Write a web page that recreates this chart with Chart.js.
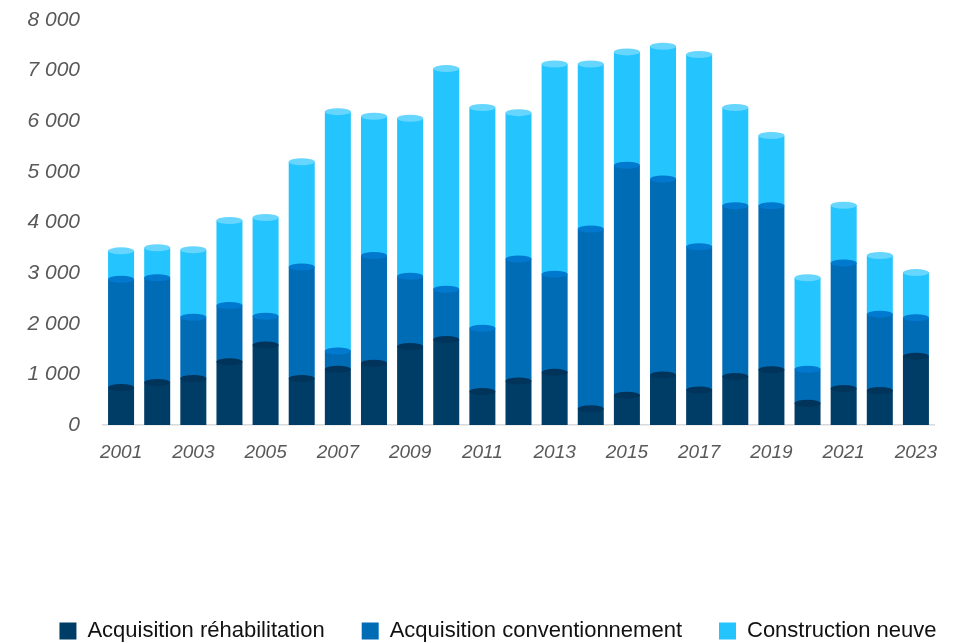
<!DOCTYPE html>
<html>
<head>
<meta charset="utf-8">
<script src="https://cdn.jsdelivr.net/npm/chart.js@4.4.0/dist/chart.umd.min.js"></script>
<style>
  html, body { margin: 0; padding: 0; background: #fff; }
  #wrap { width: 974px; height: 643px; position: relative; }
</style>
</head>
<body>
<div id="wrap"><canvas id="chart"></canvas></div>
<script>
const years = ['2001','2002','2003','2004','2005','2006','2007','2008','2009','2010','2011','2012',
               '2013','2014','2015','2016','2017','2018','2019','2020','2021','2022','2023']
const rehabilitation = [740, 840, 920, 1250, 1580, 920, 1100, 1220, 1550, 1690, 660, 870,
                        1040, 320, 590, 990, 690, 960, 1090, 430, 720, 680, 1360]
const conventionnement = [2140, 2070, 1210, 1110, 570, 2200, 360, 2130, 1390, 990, 1250, 2410,
                          1940, 3550, 4540, 3870, 2830, 3370, 3240, 670, 2480, 1510, 760]
const constructionNeuve = [560, 590, 1330, 1680, 1950, 2080, 4730, 2750, 3120, 4360, 4360, 2890,
                           4150, 3260, 2240, 2620, 3800, 1940, 1390, 1810, 1140, 1160, 890]
const yTicks = [0, 1000, 2000, 3000, 4000, 5000, 6000, 7000, 8000]

const colors = ['#003d66', '#006cb6', '#24c5ff']
const capColors = ['#00345a', '#0079cf', '#66d6ff']

const fmt = v => String(v).replace(/\B(?=(\d{3})+(?!\d))/g, ' ')

// little ellipse on top of each segment, like the 3D cylinders
const caps = {
  id: 'caps',
  afterDatasetsDraw(chart) {
    const ctx = chart.ctx
    chart.data.datasets.forEach((ds, i) => {
      const meta = chart.getDatasetMeta(i)
      meta.data.forEach(bar => {
        const w = bar.width / 2
        ctx.save()
        ctx.fillStyle = capColors[i]
        ctx.beginPath()
        ctx.ellipse(bar.x, bar.y, w, 3.5, 0, 0, Math.PI * 2)
        ctx.fill()
        ctx.restore()
      })
    })
  }
}

new Chart(document.getElementById('chart'), {
  type: 'bar',
  data: {
    labels: years,
    datasets: [
      { label: 'Acquisition réhabilitation', data: rehabilitation, backgroundColor: colors[0] },
      { label: 'Acquisition conventionnement', data: conventionnement, backgroundColor: colors[1] },
      { label: 'Construction neuve', data: constructionNeuve, backgroundColor: colors[2] }
    ]
  },
  options: {
    responsive: true,
    maintainAspectRatio: false,
    animation: false,
    layout: { padding: { top: 20, right: 0, left: 22, bottom: -9 } },
    datasets: { bar: { barPercentage: 0.72, categoryPercentage: 1 } },
    plugins: {
      tooltip: { enabled: false },
      legend: {
        position: 'bottom',
        labels: {
          boxWidth: 17,
          boxHeight: 17,
          padding: 37,
          color: '#111',
          font: { family: 'Liberation Sans', size: 22 }
        }
      }
    },
    scales: {
      x: {
        stacked: true,
        grid: { display: false },
        border: { color: '#d9d9d9', width: 1.5 },
        ticks: {
          autoSkip: false,
          maxRotation: 0,
          padding: 8,
          color: '#595959',
          font: { family: 'Liberation Sans', size: 19, style: 'italic' },
          callback: (v, i) => i % 2 === 0 ? years[i] : ''
        },
        afterFit: s => { s.height = 158 }
      },
      y: {
        stacked: true,
        min: 0,
        max: 8000,
        clip: false,
        grid: { display: false },
        border: { display: false },
        afterBuildTicks: s => { s.ticks = yTicks.map(v => ({ value: v })) },
        ticks: {
          padding: 15,
          color: '#595959',
          font: { family: 'Liberation Sans', size: 21, style: 'italic' },
          callback: v => fmt(v)
        },
        afterFit: s => { s.width = 81; s.paddingTop = 0; s.paddingBottom = 0 }
      },
      // empty right axis, only keeps the plot clear of the right edge
      yRight: {
        type: 'linear',
        position: 'right',
        grid: { display: false },
        border: { display: false },
        ticks: { display: false },
        afterFit: s => { s.width = 40 }
      }
    }
  },
  plugins: [caps]
})
</script>
</body>
</html>
